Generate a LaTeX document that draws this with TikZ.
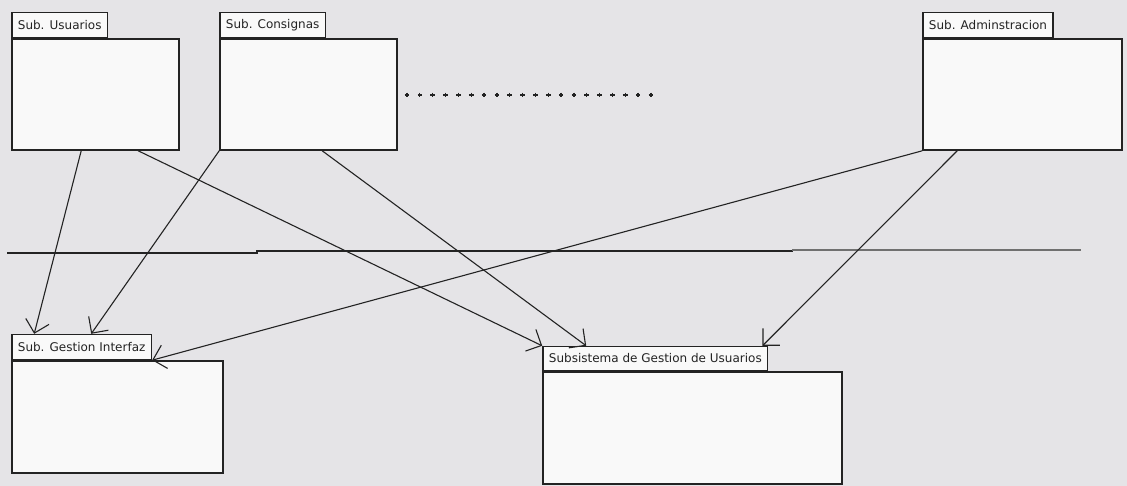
\documentclass[tikz,border=0pt]{standalone}
\usepackage{fontspec}
\newfontfamily\pkgfont{DejaVu Sans}
\usepackage{tikz}
\usetikzlibrary{positioning, arrows.meta}
\definecolor{bgGray}{RGB}{229,228,231}
\definecolor{boxFill}{RGB}{249,249,249}
\definecolor{inkGray}{RGB}{35,35,35}
\tikzstyle{pkgbody} = [rectangle, draw=inkGray, fill=boxFill, line width=1.6pt, inner sep=0pt, minimum height=111pt]
\tikzstyle{pkgtab} = [rectangle, draw=inkGray, fill=boxFill, line width=1.4pt, inner xsep=6pt, inner ysep=0pt, minimum height=25pt, font=\pkgfont\fontsize{12}{14}\selectfont, text=inkGray]
\tikzstyle{arrow} = [draw=inkGray, line width=1.1pt, -{Straight Barb[length=12pt,width=24pt]}]
\tikzstyle{divider} = [draw=inkGray, line width=1.6pt]

\begin{document}
\begin{tikzpicture}[x=1pt, y=-1pt]
\fill[bgGray] (0,0) rectangle (1127,486);
\useasboundingbox (0,0) rectangle (1127,486);

% paquetes de arriba
\node (usu) [pkgbody, minimum width=167pt] at (95.5,94.5) {};
\node (usuTab) [pkgtab, above right=0pt and 0pt of usu.north west] {Sub. Usuarios};
\node (con) [pkgbody, minimum width=177pt] at (308.5,94.5) {};
\node (conTab) [pkgtab, above right=0pt and 0pt of con.north west] {Sub. Consignas};
\node (adm) [pkgbody, minimum width=199pt] at (1022.5,94.5) {};
\node (admTab) [pkgtab, above right=0pt and 0pt of adm.north west] {Sub. Adminstracion};

% paquetes de abajo
\node (gui) [pkgbody, minimum width=211pt, minimum height=112pt] at (117.5,417) {};
\node (guiTab) [pkgtab, above right=0pt and 0pt of gui.north west] {Sub. Gestion Interfaz};
\node (gdu) [pkgbody, minimum width=299pt, minimum height=112pt] at (692.5,428) {};
\node (gduTab) [pkgtab, minimum height=24pt, above right=0pt and 0pt of gdu.north west] {Subsistema de Gestion de Usuarios};

% puntos suspensivos
\foreach \i in {0,...,19}
  \draw [inkGray, line width=1.3pt] ({407+12.84*\i-2.3},95) -- ++(4.6,0) ({407+12.84*\i},92.7) -- ++(0,4.6);

% linea divisoria
\draw [divider] (7,253) -- (257,253) -- (257,251) -- (792,251) -- (792,250);
\draw [divider, draw=inkGray!65] (792,250) -- (1081,250);

\draw [arrow] ([xshift=70pt]usu.south west) -- ([xshift=23pt]guiTab.north west);
\draw [arrow] ([xshift=127pt]usu.south west) -- (gduTab.north west);
\draw [arrow] (con.south west) -- ([xshift=80pt]guiTab.north west);
\draw [arrow] ([xshift=103pt]con.south west) -- ([xshift=44pt]gduTab.north west);
\draw [arrow] (adm.south west) -- (guiTab.south east);
\draw [arrow] ([xshift=35pt]adm.south west) -- ([xshift=-6pt]gduTab.north east);
\end{tikzpicture}
\end{document}
